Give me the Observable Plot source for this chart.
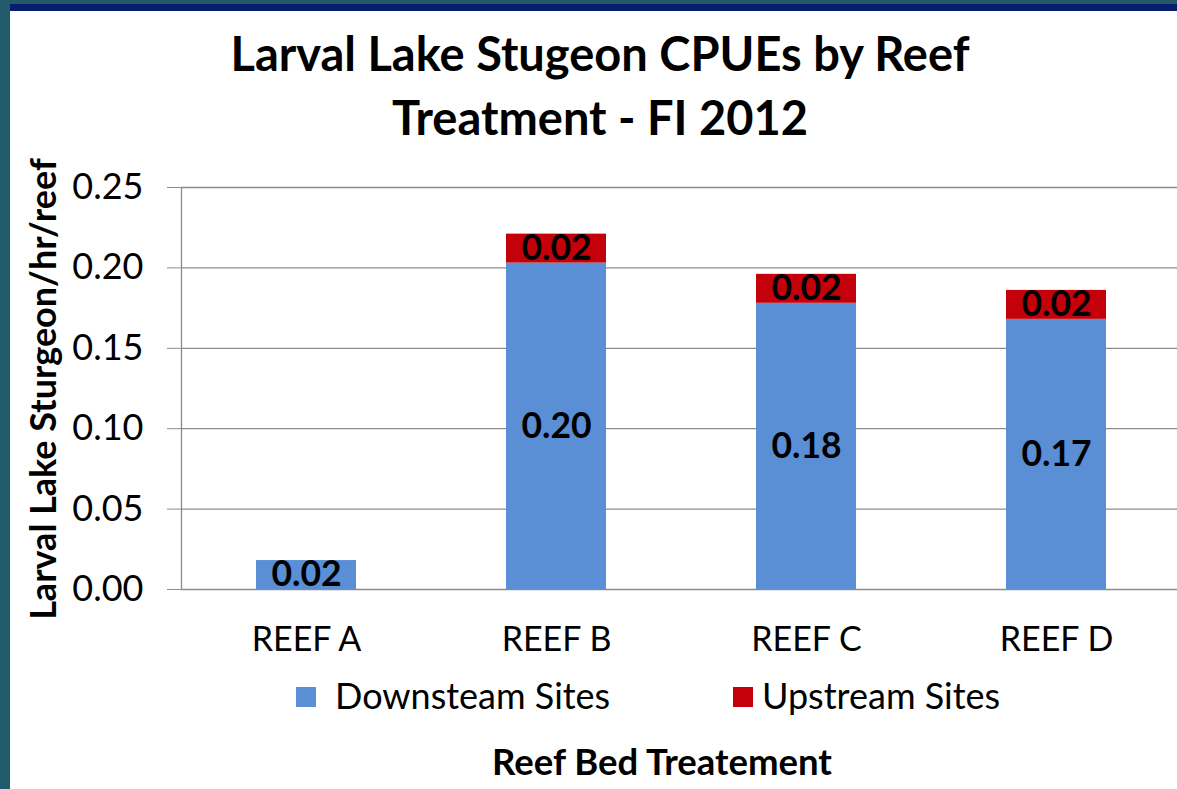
<!DOCTYPE html>
<html><head><meta charset="utf-8">
<script src="https://cdn.jsdelivr.net/npm/d3@7"></script>
<script src="https://cdn.jsdelivr.net/npm/@observablehq/plot@0.6"></script>
<style>
html,body{margin:0;padding:0;background:#fff;overflow:hidden;width:1177px;height:789px;}
#page{position:relative;width:1177px;height:789px;background:#fff;font-family:Lato,"Open Sans",sans-serif;color:#000;overflow:hidden;}
#lb{position:absolute;left:0;top:0;width:10px;height:789px;background:#215a6b;}
#tb1{position:absolute;left:0;top:0;width:1177px;height:4px;background:#215a6b;}
#tb2{position:absolute;left:10px;top:4px;width:1167px;height:7px;background:#061f6b;}
.title{position:absolute;left:0;width:1200px;text-align:center;font-weight:bold;font-size:47px;line-height:1;white-space:nowrap;}
#ylab{position:absolute;left:42px;top:389px;transform:translate(-50%,-50%) rotate(-90deg);font-weight:bold;font-size:36px;white-space:nowrap;line-height:1;}
#chart{position:absolute;left:10px;top:160px;}
.leg{position:absolute;top:678px;font-size:36px;line-height:34px;white-space:nowrap;}
.sw{position:absolute;top:687px;width:20px;height:20px;}
#xt{position:absolute;left:0;width:1324px;top:743px;text-align:center;font-weight:bold;font-size:36.5px;line-height:1;white-space:nowrap;}
</style></head>
<body><div id="page">
<div id="lb"></div><div id="tb1"></div><div id="tb2"></div>
<div class="title" id="t1" style="top:30px">Larval Lake Stugeon CPUEs by Reef</div>
<div class="title" id="t2" style="top:94px">Treatment - FI 2012</div>
<div id="ylab">Larval Lake Sturgeon/hr/reef</div>
<div id="chart"></div>
<div id="legend"></div>
<div id="xt">Reef Bed Treatement</div>
</div>
<script>
const categories = ["REEF A", "REEF B", "REEF C", "REEF D"];
const downstream = [0.018, 0.203, 0.178, 0.168];
const upstream = [0, 0.018, 0.018, 0.018];
const yTicks = [0, 0.05, 0.10, 0.15, 0.20, 0.25];
const seriesNames = ["Downsteam Sites", "Upstream Sites"];
const seriesColors = ["#5a8fd6", "#c4000a"];

const rows = [];
categories.forEach((c, i) => {
  rows.push({cat: c, series: seriesNames[0], y1: 0, y2: downstream[i], v: downstream[i]});
  rows.push({cat: c, series: seriesNames[1], y1: downstream[i], y2: downstream[i] + upstream[i], v: upstream[i]});
});
const shown = rows.filter(r => r.v > 0);

const chart = Plot.plot({
  width: 1167, height: 500,
  marginLeft: 171, marginRight: 0, marginTop: 27, marginBottom: 71,
  x: {domain: categories, range: [171, 1171], paddingInner: 0.6, paddingOuter: 0.3, axis: null},
  y: {domain: [0, 0.25], axis: null},
  color: {domain: seriesNames, range: seriesColors},
  style: {fontFamily: "Lato, 'Open Sans', sans-serif", background: "transparent", color: "#000", overflow: "visible"},
  marks: [
    Plot.ruleY(yTicks, {stroke: "#8c8c8c", strokeWidth: 1.3}),
    Plot.axisY({ticks: yTicks, tickSize: 14, tickPadding: 24, tickFormat: d => d.toFixed(2), fontSize: 36, stroke: "#8c8c8c", fill: "#000", label: null}),
    Plot.ruleX([categories[0]], {x: d => d, dx: -125, y1: 0, y2: 0.25, stroke: "#8c8c8c", strokeWidth: 1.3}),
    Plot.barY(shown, {x: "cat", y1: "y1", y2: "y2", fill: "series"}),
    Plot.text(shown, {x: "cat", y: d => (d.y1 + d.y2) / 2, text: d => d.v.toFixed(2), fontSize: 35.5, fontWeight: "bold", fill: "#000"}),
    Plot.axisX({tickSize: 0, tickPadding: 37, fontSize: 34, fill: "#000", label: null})
  ]
});
document.getElementById("chart").appendChild(chart);

const legend = document.getElementById("legend");
const legPos = [{sw: 296, tx: 335}, {sw: 733, tx: 762}];
seriesNames.forEach((n, i) => {
  const s = document.createElement("div");
  s.className = "sw"; s.style.left = legPos[i].sw + "px"; s.style.background = seriesColors[i];
  legend.appendChild(s);
  const t = document.createElement("div");
  t.className = "leg"; t.style.left = legPos[i].tx + "px"; t.textContent = n;
  legend.appendChild(t);
});
</script>
</body></html>
